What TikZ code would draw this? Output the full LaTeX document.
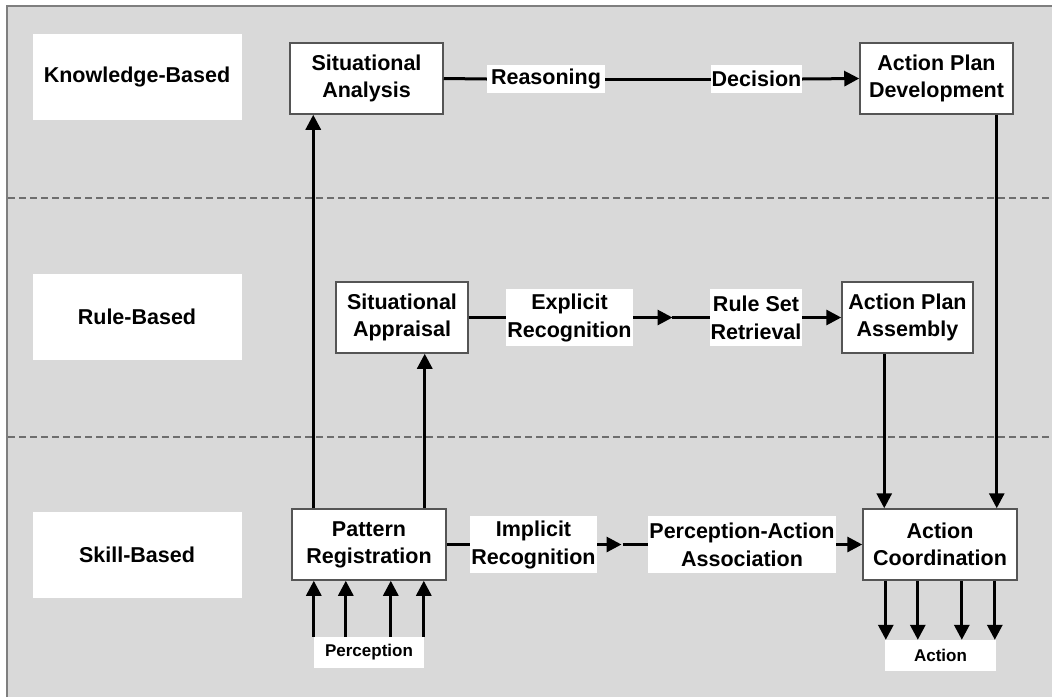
\documentclass[tikz,border=0pt]{standalone}
\usepackage{fontspec}
\setmainfont{Liberation Sans}
\usetikzlibrary{arrows.meta,calc}

\definecolor{panel}{HTML}{D9D9D9}
\definecolor{framegray}{HTML}{7F7F7F}
\definecolor{dashgray}{HTML}{6E6E6E}
\definecolor{boxgray}{HTML}{555555}

\tikzset{
  levelbox/.style={fill=white, draw=none, minimum width=209pt, minimum height=86pt,
    inner sep=0pt, font=\bfseries\fontsize{21.5}{27}\selectfont},
  procbox/.style={fill=white, draw=boxgray, line width=1.5pt, minimum height=71pt,
    inner sep=0pt, align=center, font=\bfseries\fontsize{21.5}{27}\selectfont},
  linklabel/.style={fill=white, draw=none, inner sep=0pt, align=center,
    font=\bfseries\fontsize{21.5}{28}\selectfont},
  iolabel/.style={fill=white, draw=none, inner sep=0pt, minimum width=110pt, minimum height=31pt,
    font=\bfseries\fontsize{17}{20}\selectfont},
  link/.style={draw=black, line width=3pt},
  arr/.style={link, -{Triangle[length=15pt,width=15pt]}},
  levelsep/.style={draw=dashgray, line width=1.2pt, dash pattern=on 7pt off 4pt},
}

\begin{document}
\begin{tikzpicture}[x=1pt, y=-1pt]
  \useasboundingbox (0,0) rectangle (1052,697);
  \fill[white] (0,0) rectangle (1052,697);

  % background panel with its left and top border
  \fill[panel] (7,6) rectangle (1052,697);
  \draw[framegray, line width=2pt] (7,697) -- (7,6) -- (1052,6);

  % separators between the three levels
  \draw[levelsep] (8,198) -- (1052,198);
  \draw[levelsep] (8,437) -- (1052,437);

  % level names
  \node[levelbox] (kb) at (137,77)  {Knowledge-Based};
  \node[levelbox] (rb) at (137,317) {Rule-Based};
  \node[levelbox] (sb) at (137,555) {Skill-Based};

  % processing stages
  \node[procbox, minimum width=153pt] (san) at (366.5,78.5) {Situational\\Analysis};
  \node[procbox, minimum width=153pt] (apd) at (936.5,78.5) {Action Plan\\Development};
  \node[procbox, minimum width=132pt] (sap) at (402,317.5)  {Situational\\Appraisal};
  \node[procbox, minimum width=131pt] (apa) at (907.5,317.5) {Action Plan\\Assembly};
  \node[procbox, minimum width=154pt] (pr)  at (369,544.5)  {Pattern\\Registration};
  \node[procbox, minimum width=154pt] (ac)  at (940,544.5)  {Action\\Coordination};

  % connector labels
  \node[linklabel, minimum width=118pt, minimum height=28pt] (rea) at (546,79)   {Reasoning};
  \node[linklabel, minimum width=91pt,  minimum height=28pt] (dec) at (756.5,79) {Decision};
  \node[linklabel, minimum width=127pt, minimum height=57pt] (er)  at (569.5,317.5) {Explicit\\Recognition};
  \node[linklabel, minimum width=92pt,  minimum height=57pt] (rsr) at (756,317.5)   {Rule Set\\Retrieval};
  \node[linklabel, minimum width=127pt, minimum height=57pt] (ir)  at (533.5,544.5) {Implicit\\Recognition};
  \node[linklabel, minimum width=188pt, minimum height=57pt] (paa) at (742,544.5)   {Perception-Action\\Association};

  % input and output
  \node[iolabel] (perc) at (369,652.5) {Perception};
  \node[iolabel, minimum width=111pt] (act) at (940.5,655.5) {Action};

  % knowledge-based chain
  \draw[link] (san.east) -- (rea.west);
  \draw[link] (rea.east) -- (dec.west);
  \draw[arr]  (dec.east) -- (apd.west);

  % rule-based chain
  \draw[link] (sap.east) -- (er.west);
  \coordinate (ermid) at ($(er.east)!0.5!(rsr.west)$);
  \draw[arr]  (er.east) -- ([xshift=1pt]ermid);
  \draw[link] (ermid) -- (rsr.west);
  \draw[arr]  (rsr.east) -- (apa.west);

  % skill-based chain
  \draw[link] (pr.east) -- (ir.west);
  \coordinate (irmid) at ($(ir.east)!0.5!(paa.west)$);
  \draw[arr]  (ir.east) -- ([xshift=-1pt]irmid);
  \draw[link] (irmid) -- (paa.west);
  \draw[arr]  (paa.east) -- (ac.west);

  % upward escalation from pattern registration
  \draw[arr] ([xshift=22pt]pr.north west) -- ([xshift=22pt]pr.north west |- san.south);
  \draw[arr] ([xshift=-22pt]pr.north east) -- ([xshift=-22pt]pr.north east |- sap.south);

  % plans handed down to action coordination
  \draw[arr] ([xshift=-17pt]apd.south east) -- ([xshift=-17pt]apd.south east |- ac.north);
  \draw[arr] ([xshift=43pt]apa.south west) -- ([xshift=43pt]apa.south west |- ac.north);

  % perception inputs
  \foreach \k in {0,32,77,110}
    \draw[arr] ([xshift=\k pt]perc.north west) -- ([xshift=\k pt]perc.north west |- pr.south);

  % action outputs
  \foreach \k in {1,33,77,110}
    \draw[arr] ([xshift=\k pt]act.north west |- ac.south) -- ([xshift=\k pt]act.north west);
\end{tikzpicture}
\end{document}
